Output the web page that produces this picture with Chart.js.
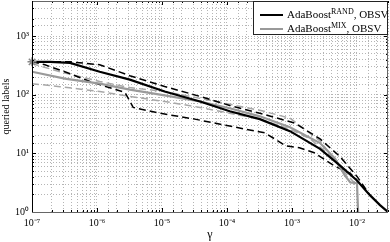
<!DOCTYPE html>
<html><head><meta charset="utf-8">
<script src="https://cdn.jsdelivr.net/npm/chart.js@4/dist/chart.umd.min.js"></script>
<style>
html,body{margin:0;padding:0;background:#fff;}
#wrap{position:relative;width:390px;height:242px;}
#legend{position:absolute;left:253px;top:1px;width:135px;height:34px;border:1px solid #222;background:#fff;font-family:"Liberation Serif",serif;font-size:11px;color:#000;box-sizing:border-box;}
.row{position:absolute;left:0;height:14px;white-space:nowrap;}
.sw{position:absolute;left:6px;width:23px;height:0;}
.tx{position:absolute;left:33px;top:-8px;line-height:14px;}
sup{font-size:8px;vertical-align:4px;line-height:0;}
</style>
</head><body>
<div id="wrap"><canvas id="c" width="390" height="242"></canvas>
<div id="legend">
 <div class="row" style="top:13px"><div class="sw" style="border-top:2.5px solid #000;top:-1px"></div><div class="tx">AdaBoost<sup>RAND</sup>, OBSV</div></div>
 <div class="row" style="top:27px"><div class="sw" style="border-top:2.5px solid #999;top:-1px"></div><div class="tx">AdaBoost<sup>MIX</sup>, OBSV</div></div>
</div>
</div>
<script>
// ---- data ----
const randMeanX = [1e-7, 1.9e-7, 3.85e-7, 1.1e-6, 3.2e-6, 1.1e-5, 3.85e-5, 1.1e-4, 3.2e-4, 9.3e-4, 2.7e-3, 5.5e-3, 1e-2, 1.58e-2, 2.26e-2, 3e-2];
const randMeanY = [366, 366, 352, 248, 182, 114, 77, 52.5, 38.5, 24, 12, 6.2, 3.46, 1.94, 1.31, 1];

const randHiX = [1e-7, 3.85e-7, 1.1e-6, 3.2e-6, 1.1e-5, 3.85e-5, 1.1e-4, 3.2e-4, 1.1e-3, 2.7e-3, 5.5e-3, 1e-2, 1.58e-2];
const randHiY = [366, 366, 326, 212, 139, 94, 66, 48.5, 33, 17.7, 8.8, 4.05, 1.94];

const randLoX = [1e-7, 1.58e-7, 3.2e-7, 7.8e-7, 2.7e-6, 3.6e-6, 9.3e-6, 3.2e-5, 1.1e-4, 3.85e-4, 8e-4, 1.3e-3, 2.2e-3, 4.6e-3, 7.9e-3, 1.1e-2];
const randLoY = [366, 326, 248, 169, 110, 61, 48.5, 38.5, 29.3, 22.4, 13.5, 12.5, 10.3, 6.0, 4.55, 3.1];

const mixMeanX = [1e-7, 3.2e-7, 1.1e-6, 3.2e-6, 1.1e-5, 3.85e-5, 1.1e-4, 3.2e-4, 9.3e-4, 2.7e-3, 4.6e-3, 6.5e-3, 7.9e-3, 1e-2, 1.04e-2];
const mixMeanY = [248, 189, 155, 123, 98, 77, 59, 43, 28, 15, 8.1, 4.2, 3.2, 3.1, 1];

const mixHiX = [1e-7, 2.7e-7, 1.1e-6, 3.2e-6, 1.1e-5, 3.85e-5, 1.1e-4, 3.2e-4, 9.3e-4, 2.7e-3, 4.6e-3, 6.5e-3];
const mixHiY = [341, 248, 169, 133, 114, 87, 69, 54.5, 40, 16.4, 7.5, 4.7];

const mixLoX = [1e-7, 2.7e-7, 1.1e-6, 3.2e-6, 1.1e-5, 3.85e-5, 1.1e-4, 3.2e-4, 9.3e-4, 1.9e-3, 3.9e-3, 6.5e-3, 9.3e-3];
const mixLoY = [155, 138, 114, 94, 77, 61, 48.5, 38.5, 26, 17.7, 9.2, 4.7, 3.1];

const startX = [1e-7];
const startY = [366];

const xTickPowers = [-7, -6, -5, -4, -3, -2];
const yTickPowers = [0, 1, 2, 3];

function pts(xs, ys){ return xs.map((x,i)=>({x:x, y:ys[i]})); }
const SUP = {'-':'\u207B','0':'\u2070','1':'\u00B9','2':'\u00B2','3':'\u00B3','4':'\u2074','5':'\u2075','6':'\u2076','7':'\u2077','8':'\u2078','9':'\u2079'};
function isPow(v){ const e = Math.log10(v); return Math.abs(e - Math.round(e)) < 1e-6; }
function powLabel(v, powers){
  const r = Math.round(Math.log10(v));
  if (isPow(v) && powers.includes(r)) {
    return '10' + String(r).split('').map(c=>SUP[c]).join('');
  }
  return '';
}

const frame = {
  id:'frame',
  afterDatasetsDraw(chart){
    const {ctx, chartArea:a, scales} = chart;
    ctx.save();
    ctx.strokeStyle = '#000'; ctx.lineWidth = 1;
    ctx.beginPath();
    scales.x.ticks.forEach(t=>{
      const px = Math.round(scales.x.getPixelForValue(t.value)) + 0.5;
      const L = isPow(t.value) ? 4 : 2;
      ctx.moveTo(px, a.bottom); ctx.lineTo(px, a.bottom - L);
      ctx.moveTo(px, a.top); ctx.lineTo(px, a.top + L);
    });
    scales.y.ticks.forEach(t=>{
      const py = Math.round(scales.y.getPixelForValue(t.value)) + 0.5;
      const L = isPow(t.value) ? 4 : 2;
      ctx.moveTo(a.left, py); ctx.lineTo(a.left + L, py);
      ctx.moveTo(a.right, py); ctx.lineTo(a.right - L, py);
    });
    ctx.stroke();
    ctx.strokeStyle = '#666';
    ctx.strokeRect(a.left + 0.5, a.top + 0.5, a.right - a.left - 1, a.bottom - a.top);
    ctx.strokeStyle = '#000';
    ctx.beginPath(); ctx.moveTo(a.left+0.5, a.top); ctx.lineTo(a.left+0.5, a.bottom); ctx.stroke();
    ctx.restore();
  }
};

const common = {showLine:true, pointRadius:0, fill:false, tension:0};
new Chart(document.getElementById('c'), {
  type:'scatter',
  data:{datasets:[
    Object.assign({data:pts(randMeanX, randMeanY), borderColor:'#000', borderWidth:2.2, order:1}, common),
    Object.assign({data:pts(mixMeanX, mixMeanY), borderColor:'#9a9a9a', borderWidth:2.2, order:2}, common),
    Object.assign({data:pts(randHiX, randHiY), borderColor:'#000', borderWidth:1.5, borderDash:[7,4], order:3}, common),
    Object.assign({data:pts(randLoX, randLoY), borderColor:'#000', borderWidth:1.5, borderDash:[7,4], order:3}, common),
    Object.assign({data:pts(mixHiX, mixHiY), borderColor:'#a8a8a8', borderWidth:1.5, borderDash:[7,4], order:4}, common),
    Object.assign({data:pts(mixLoX, mixLoY), borderColor:'#a8a8a8', borderWidth:1.5, borderDash:[7,4], order:4}, common),
    {data:pts(startX, startY), showLine:false, pointStyle:'star', pointRadius:4.5, borderColor:'#888', borderWidth:1.5, backgroundColor:'#888', order:0, clip:false}
  ]},
  options:{
    responsive:false, animation:false, devicePixelRatio:1,
    layout:{autoPadding:false, padding:{top:1, right:2, left:0, bottom:0}},
    plugins:{legend:{display:false}, tooltip:{enabled:false}},
    scales:{
      x:{type:'logarithmic', min:1e-7, max:3e-2,
         afterFit(s){ s.height = 30; s.paddingLeft = 0; s.paddingRight = 0; },
         grid:{color:'#b5b5b5', drawTicks:false, lineWidth:1},
         border:{display:false, dash:[1,2]},
         ticks:{autoSkip:false, maxRotation:0, padding:5, color:'#000',
                font:{family:'"Liberation Serif", serif', size:10},
                callback:(v)=>powLabel(v, xTickPowers)},
         title:{display:true, text:'\u03B3', color:'#000', padding:{top:0,bottom:0},
                font:{family:'"Liberation Serif", serif', size:12}}
      },
      y:{type:'logarithmic', min:1, max:4000,
         afterFit(s){ s.width = 32; s.paddingTop = 0; s.paddingBottom = 0; },
         grid:{color:'#b5b5b5', drawTicks:false, lineWidth:1},
         border:{display:false, dash:[1,2]},
         ticks:{autoSkip:false, padding:3, color:'#000',
                font:{family:'"Liberation Serif", serif', size:10},
                callback:(v)=>powLabel(v, yTickPowers)},
         title:{display:true, text:'queried labels', color:'#000', padding:{top:0,bottom:0},
                font:{family:'"Liberation Serif", serif', size:10}}
      }
    }
  },
  plugins:[frame]
});
</script>
</body></html>
